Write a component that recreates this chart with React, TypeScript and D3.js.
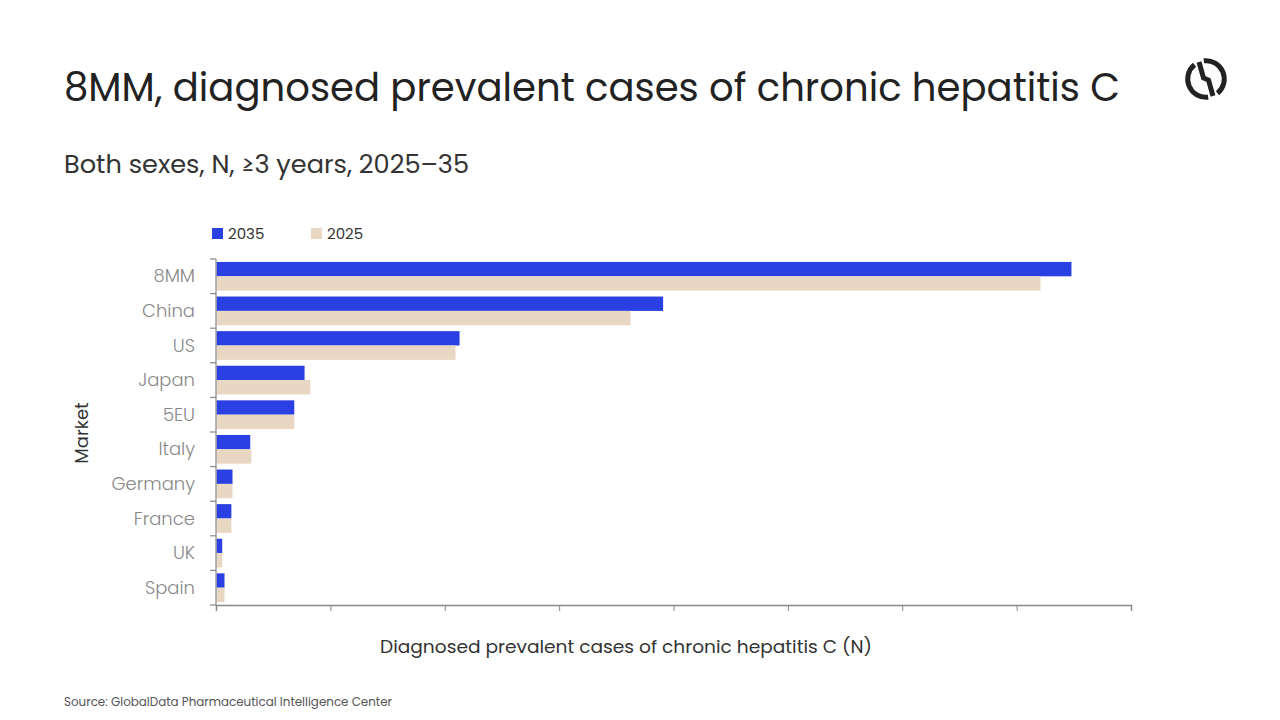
import React, { useRef, useEffect } from 'react';
import * as d3 from 'd3';

// diagnosed prevalent cases, thousands
const markets = ['8MM', 'China', 'US', 'Japan', '5EU', 'Italy', 'Germany', 'France', 'UK', 'Spain'];
const cases2035 = [1495, 781, 425, 154, 136, 59, 28, 26, 10, 14];
const cases2025 = [1441, 724, 418, 164, 136, 61, 28, 26, 10, 14];
const seriesNames = ['2035', '2025'];
const seriesColors = ['#2a40e2', '#e8d7c2'];

const FONT = "Poppins, Lato, 'Open Sans', sans-serif";

export default function App() {
  const svgRef = useRef<SVGSVGElement>(null);

  useEffect(() => {
    const svg = d3.select(svgRef.current);
    svg.selectAll('*').remove();

    const width = 1280;
    const height = 720;
    svg.attr('width', width).attr('height', height);

    svg.append('rect').attr('width', width).attr('height', height).attr('fill', '#fff');

    // title block
    svg.append('text')
      .attr('x', 64).attr('y', 101)
      .attr('textLength', 1056).attr('lengthAdjust', 'spacingAndGlyphs')
      .style('font-family', FONT).style('font-size', '39px').style('font-weight', 400)
      .attr('fill', '#222')
      .text('8MM, diagnosed prevalent cases of chronic hepatitis C');

    svg.append('text')
      .attr('x', 64).attr('y', 173)
      .attr('textLength', 405).attr('lengthAdjust', 'spacingAndGlyphs')
      .style('font-family', FONT).style('font-size', '24px')
      .attr('fill', '#333')
      .text('Both sexes, N, \u22653 years, 2025\u201335');

    // logo: broken ring with a stepped diagonal through the gaps
    const logo = svg.append('g').attr('transform', 'translate(1206,79)')
      .attr('fill', 'none').attr('stroke', '#222').attr('stroke-width', 5);
    const ring = d3.arc<any>().innerRadius(18.3).outerRadius(18.3);
    logo.append('path').attr('d', ring({ startAngle: -0.68, endAngle: -Math.PI - 0.12 } as any) as string);
    logo.append('path').attr('d', ring({ startAngle: -0.12, endAngle: Math.PI - 0.68 } as any) as string);
    logo.append('path').attr('d', 'M-7,-17 L-2.5,-1 L2.5,1 L7,17').attr('stroke-linejoin', 'miter');

    const margin = { left: 216, right: 1131, top: 259, bottom: 605 };

    const x = d3.scaleLinear().domain([0, 1600]).range([margin.left, margin.right]);
    const y = d3.scaleBand<string>().domain(markets).range([margin.top, margin.bottom])
      .paddingInner(0.17).paddingOuter(0.085);
    const sub = d3.scaleBand<string>().domain(seriesNames).range([0, y.bandwidth()]);

    const rows = markets.map((m, i) => ({ market: m, values: [cases2035[i], cases2025[i]] }));

    const groups = svg.append('g').selectAll('g').data(rows).enter().append('g')
      .attr('transform', d => `translate(0,${y(d.market)})`);

    groups.selectAll('rect')
      .data(d => d.values.map((v, j) => ({ key: seriesNames[j], value: v, color: seriesColors[j] })))
      .enter().append('rect')
      .attr('x', x(0) + 0.5)
      .attr('y', d => sub(d.key) as number)
      .attr('width', d => x(d.value) - x(0))
      .attr('height', sub.bandwidth())
      .attr('fill', d => d.color);

    // x axis, ticks without labels
    const xAxis = svg.append('g').attr('transform', `translate(0,${margin.bottom})`)
      .call(d3.axisBottom(x).ticks(8).tickFormat(() => '').tickSizeOuter(0).tickSize(6));
    xAxis.select('.domain').attr('stroke', '#888').attr('stroke-width', 1.5);
    xAxis.selectAll('.tick line').attr('stroke', '#888');

    // y axis with ticks between bands
    const yAxisG = svg.append('g');
    yAxisG.append('line')
      .attr('x1', margin.left).attr('x2', margin.left)
      .attr('y1', margin.top).attr('y2', margin.bottom)
      .attr('stroke', '#888').attr('stroke-width', 1.2);
    const bounds = d3.range(markets.length + 1).map(i => margin.top + i * y.step());
    yAxisG.selectAll('line.tk').data(bounds).enter().append('line')
      .attr('class', 'tk')
      .attr('x1', margin.left - 6).attr('x2', margin.left)
      .attr('y1', d => d).attr('y2', d => d)
      .attr('stroke', '#888').attr('stroke-width', 1.2);
    yAxisG.selectAll('text').data(markets).enter().append('text')
      .attr('x', 195)
      .attr('y', d => (y(d) as number) + y.bandwidth() / 2 + 6)
      .attr('text-anchor', 'end')
      .style('font-family', FONT).style('font-size', '18px').style('font-weight', 300)
      .attr('fill', '#888')
      .text(d => d);

    // axis titles
    svg.append('text')
      .attr('transform', 'translate(88,433) rotate(-90)')
      .attr('text-anchor', 'middle')
      .style('font-family', FONT).style('font-size', '18px')
      .attr('fill', '#333')
      .text('Market');

    svg.append('text')
      .attr('x', 626).attr('y', 653)
      .attr('text-anchor', 'middle')
      .attr('textLength', 492).attr('lengthAdjust', 'spacingAndGlyphs')
      .style('font-family', FONT).style('font-size', '18px')
      .attr('fill', '#333')
      .text('Diagnosed prevalent cases of chronic hepatitis C (N)');

    // legend
    const legend = svg.append('g').selectAll('g').data(seriesNames).enter().append('g')
      .attr('transform', (d, i) => `translate(${212 + i * 99},228)`);
    legend.append('rect').attr('width', 11).attr('height', 11)
      .attr('fill', (d, i) => seriesColors[i]);
    legend.append('text').attr('x', 16).attr('y', 10.5)
      .style('font-family', FONT).style('font-size', '15px')
      .attr('fill', '#333')
      .text(d => d);

    svg.append('text')
      .attr('x', 64).attr('y', 706)
      .attr('textLength', 328).attr('lengthAdjust', 'spacingAndGlyphs')
      .style('font-family', FONT).style('font-size', '12px')
      .attr('fill', '#555')
      .text('Source: GlobalData Pharmaceutical Intelligence Center');
  }, []);

  return <svg ref={svgRef} style={{ position: 'absolute', left: 0, top: 0 }}></svg>;
}
